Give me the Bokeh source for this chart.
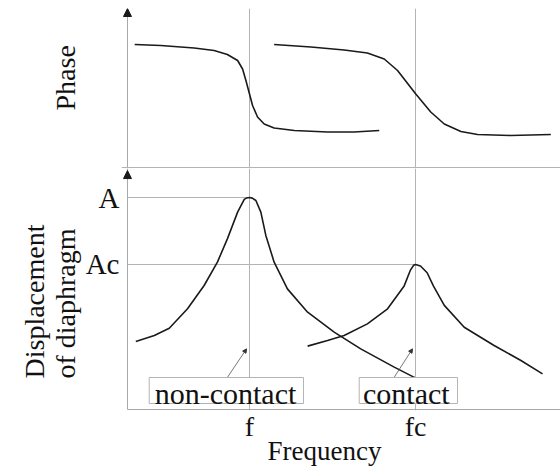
from bokeh.plotting import figure
from bokeh.layouts import column
from bokeh.models import (Range1d, FixedTicker, Label, Arrow, NormalHead, Span,
                          BoxAnnotation, Title)
from bokeh.embed import file_html
from bokeh.resources import INLINE

# ---------------- data ----------------
freq_ticks = [10.0, 16.0]            # f, fc
freq_tick_labels = ["f", "fc"]
level_values = [1.0, 0.684]          # A, Ac
level_labels = ["A", "Ac"]

# phase (degrees) vs frequency
phase_nc_x = [5.85, 6.79, 8.00, 8.72, 9.20, 9.57, 9.75, 9.87, 10.0, 10.11, 10.29,
              10.53, 10.89, 11.62, 12.82, 13.78, 14.69]
phase_nc_y = [0, -2, -7, -12, -20, -32, -49, -72, -99, -122, -145,
              -159, -167, -172, -175, -175, -172]
phase_c_x = [10.89, 12.22, 13.42, 14.26, 14.87, 15.35, 16.01, 16.55, 17.04,
             17.64, 18.24, 19.44, 20.89]
phase_c_y = [0, -5, -11, -17, -29, -52, -99, -135, -159, -174, -180, -182, -180]

# displacement (relative to A) vs frequency
disp_nc_x = [5.89, 6.56, 7.10, 7.76, 8.36, 8.84, 9.20, 9.57, 9.81, 9.90, 10.0,
             10.10, 10.23, 10.41, 10.59, 10.89, 11.37, 12.10, 13.06, 14.02, 15.23, 16.01]
disp_nc_y = [0.321, 0.349, 0.383, 0.475, 0.585, 0.695, 0.805, 0.931, 0.991, 0.998, 1.0,
             0.997, 0.986, 0.931, 0.821, 0.695, 0.569, 0.459, 0.365, 0.286, 0.200, 0.148]
disp_c_x = [12.10, 12.82, 13.42, 14.26, 14.99, 15.59, 15.81, 15.93, 16.0, 16.18,
            16.42, 16.65, 17.04, 17.76, 18.84, 19.81, 20.59]
disp_c_y = [0.299, 0.325, 0.349, 0.404, 0.475, 0.583, 0.656, 0.680, 0.684, 0.677,
            0.645, 0.582, 0.491, 0.388, 0.302, 0.231, 0.168]

# ---------------- styling ----------------
FONT = "Liberation Serif"
GRAY = "#b4b4b4"
AXGRAY = "#a8a8a8"
INK = "#1a1a1a"
TXT = "#111111"

X_START, X_END = 5.3735, 21.24
AX = 5.59                      # position of the vertical (ordinate) axis line
x_range = Range1d(X_START, X_END)

PH_LO, PH_HI = -248, 72        # phase panel range
PH_SPLIT = -246                # divider line under the phase panel
D_LO, D_HI = -0.0047, 1.1368   # displacement panel range
D_ARROW = 1.127


def style_common(fig):
    fig.outline_line_color = None
    fig.background_fill_color = "white"
    fig.border_fill_color = "white"
    fig.xgrid.ticker = FixedTicker(ticks=freq_ticks)
    fig.xgrid.grid_line_color = GRAY
    fig.ygrid.grid_line_color = None


def side_title(fig, text, side, offset, standoff, size, valign="bottom"):
    t = Title(text=text, align="left", offset=offset, standoff=standoff,
              vertical_align=valign,
              text_font=FONT, text_font_size=size, text_font_style="normal",
              text_color=TXT, text_line_height=1.0)
    fig.add_layout(t, side)
    return t


# ---------------- top: phase ----------------
top = figure(width=560, height=168, x_range=x_range, y_range=Range1d(PH_LO, PH_HI),
             output_backend="svg", toolbar_location=None,
             x_axis_location=None, y_axis_location=None,
             min_border_left=121, min_border_right=0, min_border_top=8, min_border_bottom=0)
style_common(top)
side_title(top, "Phase", "left", 58, 82, "28px")

top.add_layout(Span(location=AX, dimension="height", line_color=AXGRAY, line_width=1))
top.add_layout(Span(location=PH_SPLIT, dimension="width", line_color=GRAY, line_width=1))
top.line(phase_nc_x, phase_nc_y, line_color=INK, line_width=1.6)
top.line(phase_c_x, phase_c_y, line_color=INK, line_width=1.6)
top.add_layout(Arrow(x_start=AX, y_start=PH_SPLIT, x_end=AX, y_end=PH_HI, line_alpha=0,
                     end=NormalHead(size=8, fill_color=INK, line_color=INK)))

# ---------------- bottom: displacement ----------------
bot = figure(width=560, height=300, x_range=x_range, y_range=Range1d(D_LO, D_HI),
             output_backend="svg", toolbar_location=None,
             min_border_left=121, min_border_right=0, min_border_top=0, min_border_bottom=58)
style_common(bot)

bot.xaxis.ticker = FixedTicker(ticks=freq_ticks)
bot.xaxis.major_label_overrides = {t: l for t, l in zip(freq_ticks, freq_tick_labels)}
bot.xaxis.axis_line_color = None
bot.xaxis.major_tick_line_color = None
bot.xaxis.minor_tick_line_color = None
bot.xaxis.major_tick_out = 0
bot.xaxis.major_tick_in = 0
bot.xaxis.major_label_standoff = 0
bot.xaxis.major_label_text_font = FONT
bot.xaxis.major_label_text_font_size = "28px"
bot.xaxis.major_label_text_color = TXT
side_title(bot, "Frequency", "below", 146, -18, "27px", valign="top")

bot.yaxis.ticker = FixedTicker(ticks=level_values)
bot.yaxis.major_label_overrides = {v: l for v, l in zip(level_values, level_labels)}
bot.yaxis.axis_line_color = None
bot.yaxis.major_tick_line_color = None
bot.yaxis.minor_tick_line_color = None
bot.yaxis.major_tick_out = 0
bot.yaxis.major_tick_in = 0
bot.yaxis.major_label_standoff = 2
bot.yaxis.major_label_text_font = FONT
bot.yaxis.major_label_text_font_size = "29px"
bot.yaxis.major_label_text_color = TXT
side_title(bot, "Displacement\nof diaphragm", "left", 32, 4, "28px")

# axis lines
bot.segment(x0=[AX, AX], y0=[0.0, 0.0], x1=[AX, X_END], y1=[D_HI, 0.0],
            line_color=AXGRAY, line_width=1)
# level lines A, Ac
bot.segment(x0=[AX] * len(level_values), y0=level_values, x1=freq_ticks, y1=level_values,
            line_color=GRAY, line_width=1)

bot.line(disp_nc_x, disp_nc_y, line_color=INK, line_width=1.6)
bot.line(disp_c_x, disp_c_y, line_color=INK, line_width=1.6)

bot.add_layout(Arrow(x_start=AX, y_start=0.0, x_end=AX, y_end=D_ARROW, line_alpha=0,
                     end=NormalHead(size=8, fill_color=INK, line_color=INK)))

# pointer arrows to the curves
for xs, xe in [(9.205, 9.892), (15.23, 15.89)]:
    bot.add_layout(Arrow(x_start=xs, y_start=0.152, x_end=xe, y_end=0.286,
                         line_color="#555555", line_width=0.8,
                         end=NormalHead(size=4, fill_color="#333333", line_color="#333333")))

# boxed labels
for txt, xc, (bl, br) in [("non-contact", 9.133, (6.375, 11.952)),
                          ("contact", 15.668, (13.965, 17.518))]:
    bot.add_layout(BoxAnnotation(left=bl, right=br, bottom=0.0283, top=0.151,
                                 fill_color="white", fill_alpha=1.0,
                                 line_color=GRAY, line_alpha=1.0, line_width=1,
                                 level="annotation"))
    bot.add_layout(Label(x=xc, y=0.0765, text=txt, text_align="center",
                         text_baseline="alphabetic", text_font=FONT,
                         text_font_size="30px", text_color=TXT))

layout = column(top, bot, spacing=0)
open("out.html", "w").write(file_html(layout, INLINE))
